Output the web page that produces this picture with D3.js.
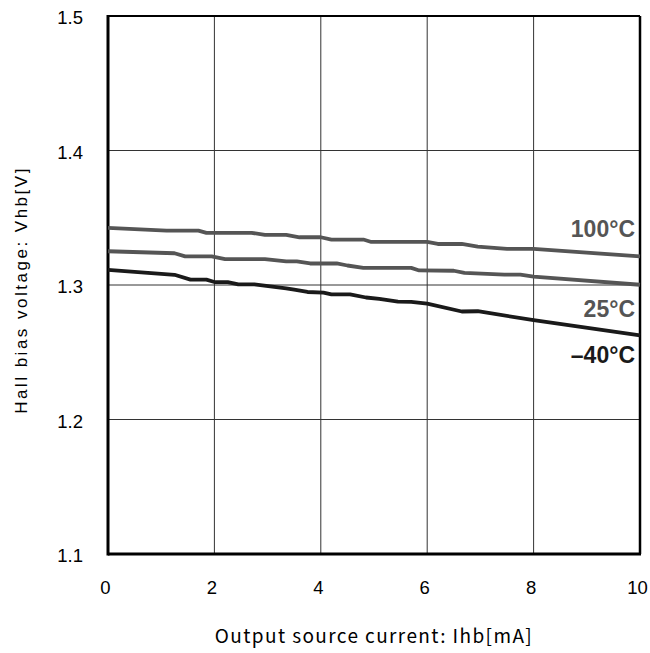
<!DOCTYPE html>
<html><head><meta charset="utf-8">
<script src="https://cdn.jsdelivr.net/npm/d3@7"></script>
<style>body{margin:0;background:#fff}</style>
</head><body>
<svg id="c" width="650" height="653"></svg>
<script>
const xTicks = [0, 2, 4, 6, 8, 10];
const yTicks = [1.1, 1.2, 1.3, 1.4, 1.5];
const series100 = [[0,1.3424],[1.1,1.3404],[1.7,1.3404],[1.85,1.3388],[2.7,1.3388],[2.95,1.3372],[3.35,1.3372],[3.6,1.3355],[4.0,1.3355],[4.2,1.3338],[4.8,1.3338],[4.95,1.332],[6.0,1.332],[6.2,1.3305],[6.65,1.3305],[6.95,1.3285],[7.5,1.3268],[8.0,1.3268],[10,1.3213]];
const series25 = [[0,1.3251],[1.25,1.3236],[1.45,1.3213],[1.95,1.3213],[2.2,1.3193],[2.95,1.3193],[3.35,1.3175],[3.55,1.3175],[3.8,1.316],[4.3,1.316],[4.5,1.3145],[4.8,1.3127],[5.7,1.3127],[5.85,1.3108],[6.5,1.3106],[6.7,1.309],[7.45,1.3077],[7.75,1.3077],[8.0,1.3062],[10,1.3002]];
const seriesM40 = [[0,1.3112],[1.25,1.3076],[1.55,1.304],[1.85,1.304],[2.0,1.3022],[2.25,1.3022],[2.45,1.3005],[2.75,1.3005],[3.35,1.2975],[3.5,1.2965],[3.75,1.2948],[4.05,1.2943],[4.2,1.2931],[4.55,1.2931],[4.85,1.2907],[5.1,1.2897],[5.45,1.2877],[5.7,1.2875],[6.0,1.2862],[6.65,1.2803],[6.95,1.2805],[8.0,1.2738],[10,1.2625]];
const labels = ["100°C", "25°C", "–40°C"];
const labelY = [1.3357, 1.2762, 1.2420];

const L = 108, R = 640, T = 16, B = 554;
const svg = d3.select("#c");
const x = d3.scaleLinear().domain([0, 10]).range([L, R]);
const y = d3.scaleLinear().domain([1.1, 1.5]).range([B, T]);

// grid
svg.append("g").selectAll("line").data(xTicks.slice(1, -1)).join("line")
  .attr("x1", d => x(d)).attr("x2", d => x(d)).attr("y1", T).attr("y2", B)
  .attr("stroke", "#333").attr("stroke-width", 1);
svg.append("g").selectAll("line").data(yTicks.slice(1, -1)).join("line")
  .attr("x1", L).attr("x2", R).attr("y1", d => y(d)).attr("y2", d => y(d))
  .attr("stroke", "#333").attr("stroke-width", 1);

// frame
svg.append("line").attr("x1", L).attr("x2", R).attr("y1", T).attr("y2", T).attr("stroke", "#000").attr("stroke-width", 2);
svg.append("line").attr("x1", R).attr("x2", R).attr("y1", T).attr("y2", B).attr("stroke", "#000").attr("stroke-width", 2.5);
svg.append("line").attr("x1", L).attr("x2", L).attr("y1", T - 1).attr("y2", B + 1.5).attr("stroke", "#000").attr("stroke-width", 3);
svg.append("line").attr("x1", L).attr("x2", R + 1).attr("y1", B).attr("y2", B).attr("stroke", "#000").attr("stroke-width", 3);

// axes (labels only)
const xAxis = d3.axisBottom(x).tickValues(xTicks).tickSize(0).tickPadding(0).tickFormat(d3.format("d"));
const gx = svg.append("g").attr("transform", `translate(-3,${B + 27})`).call(xAxis);
gx.select(".domain").remove();
gx.selectAll("text").attr("font-family", "Liberation Sans, Arial, sans-serif").attr("font-size", 18.5).attr("fill", "#000").attr("dy", "0.71em");

const yAxis = d3.axisLeft(y).tickValues(yTicks).tickSize(0).tickPadding(0).tickFormat(d3.format(".1f"));
const gy = svg.append("g").attr("transform", `translate(${L - 25},2)`).call(yAxis);
gy.select(".domain").remove();
gy.selectAll("text").attr("font-family", "Liberation Sans, Arial, sans-serif").attr("font-size", 18.5).attr("fill", "#000");

// lines
const line = d3.line().x(d => x(d[0])).y(d => y(d[1]));
const seriesAll = [series100, series25, seriesM40];
const colors = ["#555", "#555", "#1a1a1a"];
svg.append("g").selectAll("path").data(seriesAll).join("path")
  .attr("d", line).attr("fill", "none")
  .attr("stroke", (d, i) => colors[i]).attr("stroke-width", 3.8)
  .attr("stroke-linejoin", "round");

// labels
svg.append("g").selectAll("text").data(labels).join("text")
  .attr("x", 635).attr("y", (d, i) => y(labelY[i]))
  .attr("text-anchor", "end")
  .attr("font-family", "Liberation Sans, Arial, sans-serif").attr("font-weight", "bold").attr("font-size", 23)
  .attr("fill", (d, i) => i === 2 ? "#1a1a1a" : "#555")
  .text(d => d);

// titles
svg.append("text").attr("x", 374).attr("y", 643).attr("text-anchor", "middle")
  .attr("font-family", "Noto Sans CJK JP, sans-serif").attr("font-size", 19).attr("letter-spacing", 1.4).attr("fill", "#000")
  .text("Output source current: Ihb[mA]");
svg.append("text").attr("transform", `translate(27,290) rotate(-90)`).attr("text-anchor", "middle")
  .attr("font-family", "Liberation Sans, Arial, sans-serif").attr("font-size", 17).attr("letter-spacing", 2.5).attr("fill", "#000")
  .text("Hall bias voltage: Vhb[V]");
</script>
</body></html>
